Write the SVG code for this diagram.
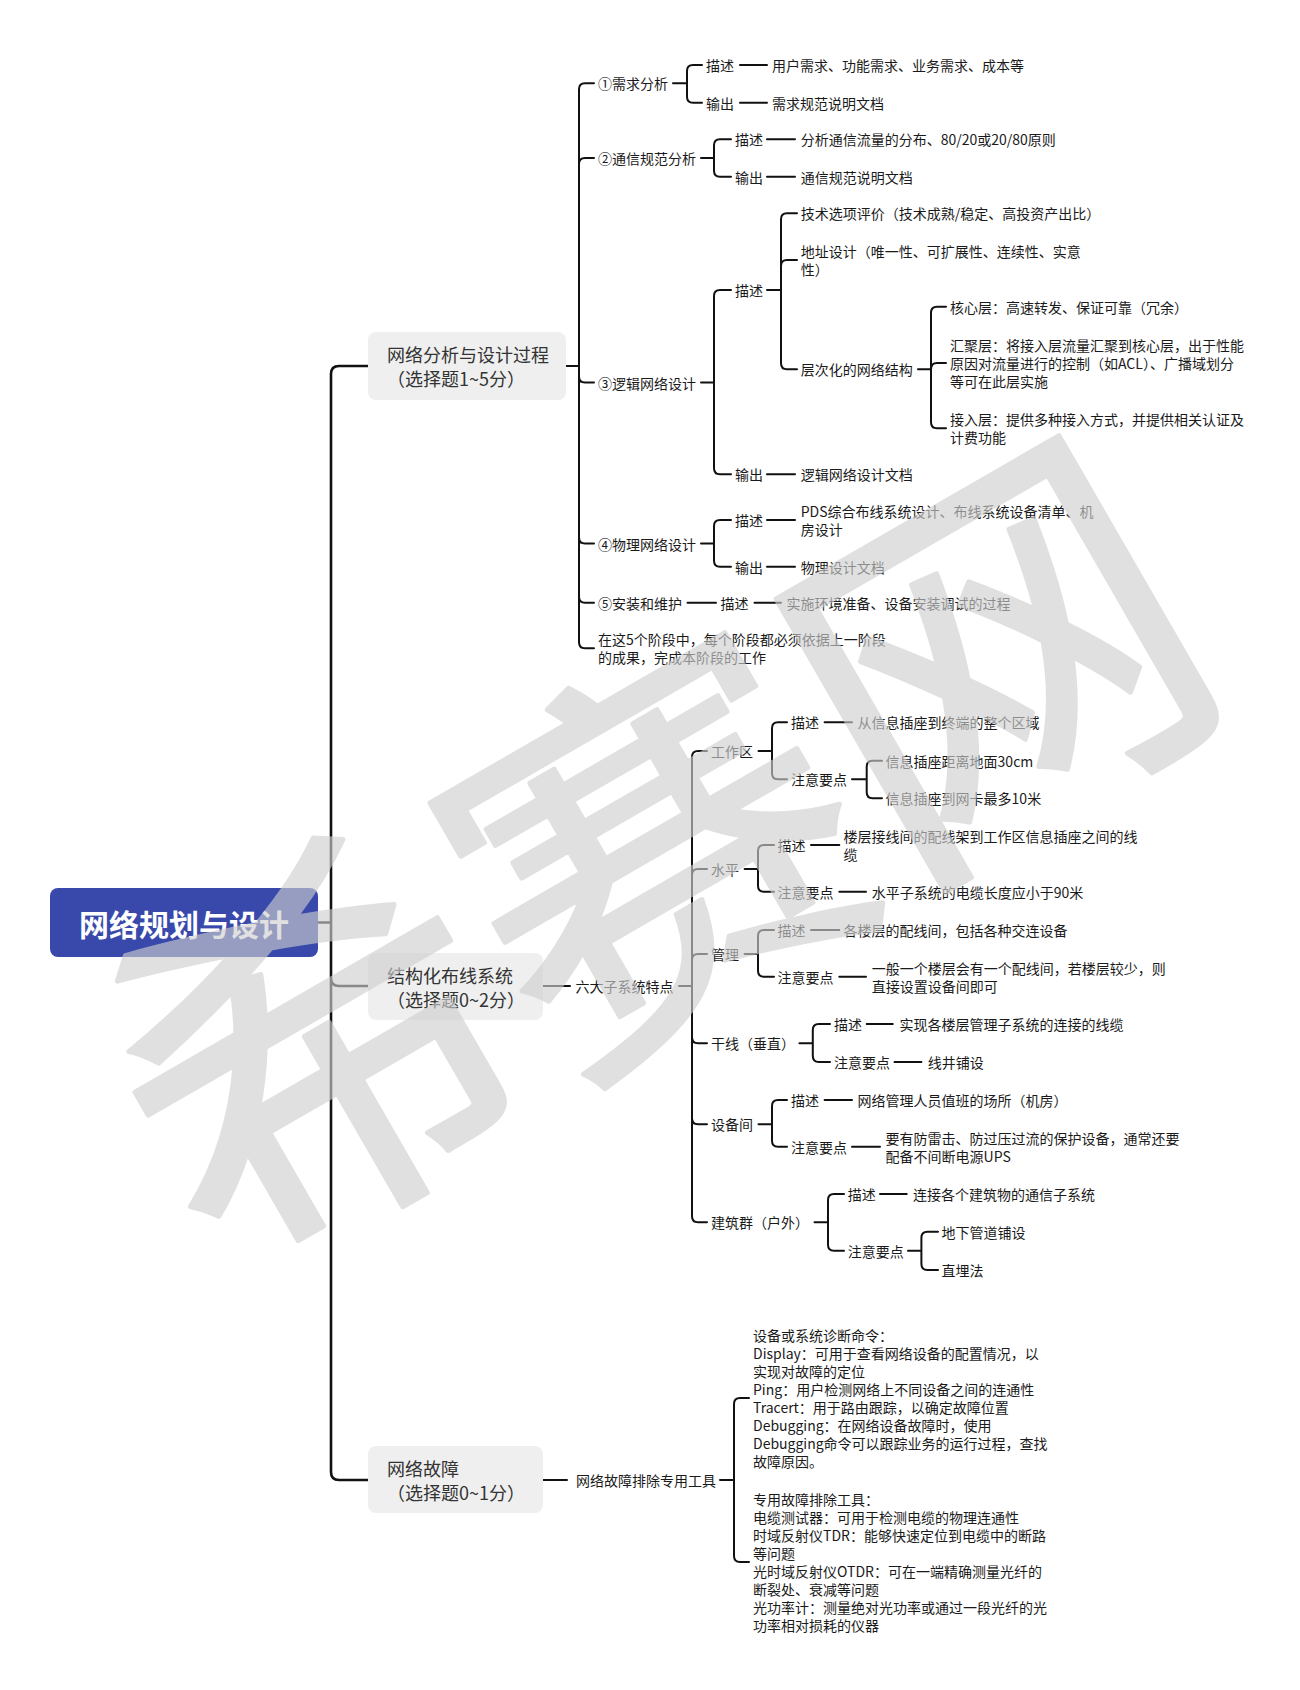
<svg xmlns="http://www.w3.org/2000/svg" width="1300" height="1690" viewBox="0 0 1300 1690">
<style>
.t{font-family:"Noto Sans CJK SC","Noto Sans",sans-serif;font-size:14px;fill:#1a1a1a;dominant-baseline:central}
.l1{font-family:"Noto Sans CJK SC","Noto Sans",sans-serif;font-size:18px;fill:#333;dominant-baseline:central}
.root{font-family:"Noto Sans CJK SC","Noto Sans",sans-serif;font-size:30px;font-weight:700;fill:#fff;text-anchor:middle;dominant-baseline:central}
.box{fill:#efefef}
.c{fill:none;stroke:#111;stroke-width:2;stroke-linecap:round;stroke-linejoin:round}
.c3{fill:none;stroke:#111;stroke-width:2.6;stroke-linecap:round;stroke-linejoin:round}
.wm{font-family:"Noto Sans CJK SC",sans-serif;font-size:395px;font-weight:400;fill:#cfcfcf;stroke:#cfcfcf;stroke-width:5;stroke-linejoin:round;text-anchor:middle;dominant-baseline:central}
</style>
<rect width="1300" height="1690" fill="#fff"/>

<g id="connectors">
<path class="c3" d="M318,922.5 H331 M331,922.5 V374 Q331,366 339,366 H368 M331,922.5 V978 Q331,986 339,986 H368 M331,922.5 V1472 Q331,1480 339,1480 H368"/>
<path class="c" d="M566,366 H579
M579,366 V89.3 Q579,83.3 585,83.3 H594
M579,366 V164 Q579,158 585,158 H594
M579,366 V376.5 Q579,382.5 585,382.5 H594
M579,366 V537.5 Q579,543.5 585,543.5 H594
M579,366 V596.7 Q579,602.7 585,602.7 H594
M579,366 V642.3 Q579,648.3 585,648.3 H594
M673,83.3 H687 M687,83.3 V71 Q687,65 693,65 H702 M687,83.3 V96.7 Q687,102.7 693,102.7 H702
M740,65 H767 M740,102.7 H767
M701,158 H714 M714,158 V145.3 Q714,139.3 720,139.3 H731 M714,158 V170.7 Q714,176.7 720,176.7 H731
M767,139.3 H795 M767,176.7 H795
M701,382.5 H714 M714,382.5 V296 Q714,290 720,290 H731 M714,382.5 V468.3 Q714,474.3 720,474.3 H731
M767,290 H781 M781,290 V219.3 Q781,213.3 787,213.3 H797 M781,290 V266 Q781,260 787,260 H797 M781,290 V363.3 Q781,369.3 787,369.3 H797
M918,369.3 H931 M931,369.3 V312.7 Q931,306.7 937,306.7 H946 M931,369.3 Q931,363 937,363 H946 M931,369.3 V422.3 Q931,428.3 937,428.3 H946
M767,474.3 H795
M701,543.5 H714 M714,543.5 V526 Q714,520 720,520 H731 M714,543.5 V560.7 Q714,566.7 720,566.7 H731
M767,520 H795 M767,566.7 H795
M687.5,602.7 H716 M754.5,602.7 H781"/>
<path class="c" d="M543,986 H570 M679,986 H692
M692,986 V757 Q692,751 698,751 H707
M692,986 V875 Q692,869 698,869 H707
M692,986 V960 Q692,954 698,954 H707
M692,986 V1037.3 Q692,1043.3 698,1043.3 H707
M692,986 V1118.3 Q692,1124.3 698,1124.3 H707
M692,986 V1216.3 Q692,1222.3 698,1222.3 H707
M758.5,751 H772 M772,751 V728.3 Q772,722.3 778,722.3 H787 M772,751 V773.3 Q772,779.3 778,779.3 H787
M824.6,722.3 H852
M852,779.3 H866.7 M866.7,779.3 V766.7 Q866.7,760.7 872.7,760.7 H882 M866.7,779.3 V792.3 Q866.7,798.3 872.7,798.3 H882
M744.6,869 H758 M758,869 V851 Q758,845 764,845 H774 M758,869 V885.7 Q758,891.7 764,891.7 H774
M811,845 H839.3 M839.3,891.7 H866
M744.6,954 H758 M758,954 V936 Q758,930 764,930 H774 M758,954 V970.7 Q758,976.7 764,976.7 H774
M811,930 H839.3 M839.3,976.7 H866
M799.4,1043.3 H812.8 M812.8,1043.3 V1030 Q812.8,1024 818.8,1024 H830 M812.8,1043.3 V1056 Q812.8,1062 818.8,1062 H830
M866.7,1024 H892.8 M894.5,1062 H921.4
M758.5,1124.3 H772 M772,1124.3 V1106 Q772,1100 778,1100 H787 M772,1124.3 V1140.7 Q772,1146.7 778,1146.7 H787
M824.6,1100 H852 M852,1146.7 H880
M814.5,1222.3 H828 M828,1222.3 V1200 Q828,1194 834,1194 H844 M828,1222.3 V1244.7 Q828,1250.7 834,1250.7 H844
M880,1194 H906.7
M908,1250.7 H921.4 M921.4,1250.7 V1237.7 Q921.4,1231.7 927.4,1231.7 H938 M921.4,1250.7 V1264 Q921.4,1270 927.4,1270 H938"/>
<path class="c" d="M543,1480 H567 M720,1480 H734
M734,1480 V1404 Q734,1398 740,1398 H749
M734,1480 V1556 Q734,1562 740,1562 H749"/>
</g>

<g id="root"><rect x="50" y="888" width="268" height="69" rx="8" fill="#3949ab"/><text class="root" x="184" y="922.5">网络规划与设计</text></g>

<g id="n-process"><rect class="box" x="368" y="332" width="198" height="68" rx="8"/><text class="l1" x="387" y="354.3">网络分析与设计过程</text><text class="l1" x="387" y="377.7">（选择题1~5分）</text></g>
<g id="n-cabling"><rect class="box" x="368" y="953" width="175" height="67" rx="8"/><text class="l1" x="387" y="975">结构化布线系统</text><text class="l1" x="387" y="999">（选择题0~2分）</text></g>
<g id="n-fault"><rect class="box" x="368" y="1446" width="175" height="67" rx="8"/><text class="l1" x="387" y="1468">网络故障</text><text class="l1" x="387" y="1492">（选择题0~1分）</text></g>

<g id="n-p1"><text class="t" x="598" y="83.3">①需求分析</text></g>
<g id="n-p1-d"><text class="t" x="706" y="65">描述</text><text class="t" x="772" y="65">用户需求、功能需求、业务需求、成本等</text></g>
<g id="n-p1-o"><text class="t" x="706" y="102.7">输出</text><text class="t" x="772" y="102.7">需求规范说明文档</text></g>

<g id="n-p2"><text class="t" x="598" y="158">②通信规范分析</text></g>
<g id="n-p2-d"><text class="t" x="735" y="139.3">描述</text><text class="t" x="800.7" y="139.3">分析通信流量的分布、80/20或20/80原则</text></g>
<g id="n-p2-o"><text class="t" x="735" y="176.7">输出</text><text class="t" x="800.7" y="176.7">通信规范说明文档</text></g>

<g id="n-p3"><text class="t" x="598" y="382.5">③逻辑网络设计</text></g>
<g id="n-p3-d"><text class="t" x="735" y="290">描述</text></g>
<g id="n-p3-d1"><text class="t" x="800.7" y="213.3">技术选项评价（技术成熟/稳定、高投资产出比）</text></g>
<g id="n-p3-d2"><text class="t" x="800.7" y="251">地址设计（唯一性、可扩展性、连续性、实意</text><text class="t" x="800.7" y="269.3">性）</text></g>
<g id="n-p3-d3"><text class="t" x="800.7" y="369.3">层次化的网络结构</text></g>
<g id="n-core"><text class="t" x="950" y="306.7">核心层：高速转发、保证可靠（冗余）</text></g>
<g id="n-dist"><text class="t" x="950" y="345">汇聚层：将接入层流量汇聚到核心层，出于性能</text><text class="t" x="950" y="363">原因对流量进行的控制（如ACL）、广播域划分</text><text class="t" x="950" y="381">等可在此层实施</text></g>
<g id="n-access"><text class="t" x="950" y="419.3">接入层：提供多种接入方式，并提供相关认证及</text><text class="t" x="950" y="437.3">计费功能</text></g>
<g id="n-p3-o"><text class="t" x="735" y="474.3">输出</text><text class="t" x="800.7" y="474.3">逻辑网络设计文档</text></g>

<g id="n-p4"><text class="t" x="598" y="543.5">④物理网络设计</text></g>
<g id="n-p4-d"><text class="t" x="735" y="520">描述</text><text class="t" x="800.7" y="511.3">PDS综合布线系统设计、布线系统设备清单、机</text><text class="t" x="800.7" y="529.3">房设计</text></g>
<g id="n-p4-o"><text class="t" x="735" y="566.7">输出</text><text class="t" x="800.7" y="566.7">物理设计文档</text></g>

<g id="n-p5"><text class="t" x="598" y="602.7">⑤安装和维护</text><text class="t" x="720.5" y="602.7">描述</text><text class="t" x="786.6" y="602.7">实施环境准备、设备安装调试的过程</text></g>
<g id="n-p6"><text class="t" x="598" y="639.3">在这5个阶段中，每个阶段都必须依据上一阶段</text><text class="t" x="598" y="657.3">的成果，完成本阶段的工作</text></g>

<g id="n-six"><text class="t" x="575.5" y="986">六大子系统特点</text></g>
<g id="n-work"><text class="t" x="711" y="751">工作区</text><text class="t" x="791" y="722.3">描述</text><text class="t" x="857.4" y="722.3">从信息插座到终端的整个区域</text><text class="t" x="791" y="779.3">注意要点</text><text class="t" x="885.6" y="760.7">信息插座距离地面30cm</text><text class="t" x="885.6" y="798.3">信息插座到网卡最多10米</text></g>
<g id="n-horiz"><text class="t" x="711" y="869">水平</text><text class="t" x="777.5" y="845">描述</text><text class="t" x="843.5" y="836">楼层接线间的配线架到工作区信息插座之间的线</text><text class="t" x="843.5" y="854">缆</text><text class="t" x="777.5" y="891.7">注意要点</text><text class="t" x="871.7" y="891.7">水平子系统的电缆长度应小于90米</text></g>
<g id="n-mgmt"><text class="t" x="711" y="954">管理</text><text class="t" x="777.5" y="930">描述</text><text class="t" x="843.5" y="930">各楼层的配线间，包括各种交连设备</text><text class="t" x="777.5" y="976.7">注意要点</text><text class="t" x="871.7" y="967.7">一般一个楼层会有一个配线间，若楼层较少，则</text><text class="t" x="871.7" y="985.7">直接设置设备间即可</text></g>
<g id="n-trunk"><text class="t" x="711" y="1043.3">干线（垂直）</text><text class="t" x="834" y="1024">描述</text><text class="t" x="899.5" y="1024">实现各楼层管理子系统的连接的线缆</text><text class="t" x="834" y="1062">注意要点</text><text class="t" x="927.7" y="1062">线井铺设</text></g>
<g id="n-equip"><text class="t" x="711" y="1124.3">设备间</text><text class="t" x="791" y="1100">描述</text><text class="t" x="857.4" y="1100">网络管理人员值班的场所（机房）</text><text class="t" x="791" y="1146.7">注意要点</text><text class="t" x="885.6" y="1138.3">要有防雷击、防过压过流的保护设备，通常还要</text><text class="t" x="885.6" y="1156.3">配备不间断电源UPS</text></g>
<g id="n-campus"><text class="t" x="711" y="1222.3">建筑群（户外）</text><text class="t" x="847.8" y="1194">描述</text><text class="t" x="913" y="1194">连接各个建筑物的通信子系统</text><text class="t" x="847.8" y="1250.7">注意要点</text><text class="t" x="941.6" y="1231.7">地下管道铺设</text><text class="t" x="941.6" y="1270">直埋法</text></g>

<g id="n-tools"><text class="t" x="576" y="1480">网络故障排除专用工具</text></g>
<g id="n-cmd"><text class="t" x="753" y="1335">设备或系统诊断命令：</text><text class="t" x="753" y="1353">Display：可用于查看网络设备的配置情况，以</text><text class="t" x="753" y="1371">实现对故障的定位</text><text class="t" x="753" y="1389">Ping：用户检测网络上不同设备之间的连通性</text><text class="t" x="753" y="1407">Tracert：用于路由跟踪，以确定故障位置</text><text class="t" x="753" y="1425">Debugging：在网络设备故障时，使用</text><text class="t" x="753" y="1443">Debugging命令可以跟踪业务的运行过程，查找</text><text class="t" x="753" y="1461">故障原因。</text></g>
<g id="n-dev"><text class="t" x="753" y="1499">专用故障排除工具：</text><text class="t" x="753" y="1517">电缆测试器：可用于检测电缆的物理连通性</text><text class="t" x="753" y="1535">时域反射仪TDR：能够快速定位到电缆中的断路</text><text class="t" x="753" y="1553">等问题</text><text class="t" x="753" y="1571">光时域反射仪OTDR：可在一端精确测量光纤的</text><text class="t" x="753" y="1589">断裂处、衰减等问题</text><text class="t" x="753" y="1607">光功率计：测量绝对光功率或通过一段光纤的光</text><text class="t" x="753" y="1625">功率相对损耗的仪器</text></g>

<g id="watermark" opacity="0.63"><text class="wm" transform="translate(643,833) rotate(-30)">希赛网</text></g>
</svg>
